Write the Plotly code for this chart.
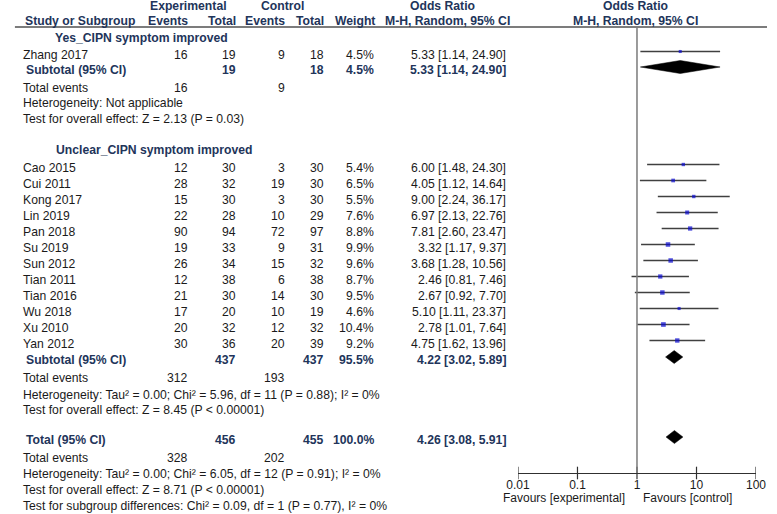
import plotly.graph_objects as go

# --- DATA ---
yes_studies = ["Zhang 2017"]
yes_exp_events = [16]
yes_exp_total = [19]
yes_ctl_events = [9]
yes_ctl_total = [18]
yes_weight = [4.5]
yes_or = [5.33]
yes_lo = [1.14]
yes_hi = [24.90]
yes_sub = {"exp_total": 19, "ctl_total": 18, "weight": 4.5, "or": 5.33, "lo": 1.14, "hi": 24.90,
           "exp_events": 16, "ctl_events": 9}

unc_studies = ["Cao 2015", "Cui 2011", "Kong 2017", "Lin 2019", "Pan 2018", "Su 2019",
               "Sun 2012", "Tian 2011", "Tian 2016", "Wu 2018", "Xu 2010", "Yan 2012"]
unc_exp_events = [12, 28, 15, 22, 90, 19, 26, 12, 21, 17, 20, 30]
unc_exp_total = [30, 32, 30, 28, 94, 33, 34, 38, 30, 20, 32, 36]
unc_ctl_events = [3, 19, 3, 10, 72, 9, 15, 6, 14, 10, 12, 20]
unc_ctl_total = [30, 30, 30, 29, 97, 31, 32, 38, 30, 19, 32, 39]
unc_weight = [5.4, 6.5, 5.5, 7.6, 8.8, 9.9, 9.6, 8.7, 9.5, 4.6, 10.4, 9.2]
unc_or = [6.00, 4.05, 9.00, 6.97, 7.81, 3.32, 3.68, 2.46, 2.67, 5.10, 2.78, 4.75]
unc_lo = [1.48, 1.12, 2.24, 2.13, 2.60, 1.17, 1.28, 0.81, 0.92, 1.11, 1.01, 1.62]
unc_hi = [24.30, 14.64, 36.17, 22.76, 23.47, 9.37, 10.56, 7.46, 7.70, 23.37, 7.64, 13.96]
unc_sub = {"exp_total": 437, "ctl_total": 437, "weight": 95.5, "or": 4.22, "lo": 3.02, "hi": 5.89,
           "exp_events": 312, "ctl_events": 193}

tot = {"exp_total": 456, "ctl_total": 455, "weight": 100.0, "or": 4.26, "lo": 3.08, "hi": 5.91,
       "exp_events": 328, "ctl_events": 202}

tick_vals = [0.01, 0.1, 1, 10, 100]
tick_text = ["0.01", "0.1", "1", "10", "100"]

# --- LAYOUT CONSTANTS (pixels) ---
W, H = 777, 514
FONT = "Liberation Sans, Arial, sans-serif"
FS = 12.2
TXT = "#1a1a1a"
HEAD = "#22345a"
COL_EVT_E, COL_TOT_E, COL_EVT_C, COL_TOT_C, COL_W, COL_OR = 182, 232, 282, 322, 374, 509
AX_L, AX_R = 520.7, 765.7
AX_Y = 473
LINE_Y = 27
MARK_SHIFT = 3.5

# text row positions (centres)
yes_rows = [55]
yes_sub_y = 70
unc_rows = [168 + 16 * i for i in range(len(unc_studies))]
unc_sub_y = 360
tot_y = 440

annotations = []


def px(x):
    return x / W


def txt(x, y, s, anchor="left", bold=False, color=TXT, size=FS):
    if bold:
        s = "<b>" + s + "</b>"
    annotations.append(dict(x=px(x), y=y, xref="paper", yref="y", text=s, showarrow=False,
                            xanchor=anchor, yanchor="middle", borderpad=0,
                            font=dict(family=FONT, size=size, color=color)))


# headers
txt(182, 6, "Experimental", "center", True, HEAD)
txt(278, 6, "Control", "center", True, HEAD)
txt(443, 6, "Odds Ratio", "center", True, HEAD)
txt(642, 6, "Odds Ratio", "center", True, HEAD)
txt(12, 21, "Study or Subgroup", "left", True, HEAD)
txt(COL_EVT_E, 21, "Events", "right", True, HEAD)
txt(COL_TOT_E, 21, "Total", "right", True, HEAD)
txt(COL_EVT_C, 21, "Events", "right", True, HEAD)
txt(COL_TOT_C, 21, "Total", "right", True, HEAD)
txt(COL_W + 1, 21, "Weight", "right", True, HEAD)
txt(448, 21, "M-H, Random, 95% CI", "center", True, HEAD)
txt(642, 21, "M-H, Random, 95% CI", "center", True, HEAD)


def study_rows(names, ee, et, ce, ct, w, o, lo, hi, rows):
    for i, y in enumerate(rows):
        txt(10, y, names[i])
        txt(COL_EVT_E, y, str(ee[i]), "right")
        txt(COL_TOT_E, y, str(et[i]), "right")
        txt(COL_EVT_C, y, str(ce[i]), "right")
        txt(COL_TOT_C, y, str(ct[i]), "right")
        txt(COL_W, y, f"{w[i]:.1f}%", "right")
        txt(COL_OR, y, f"{o[i]:.2f} [{lo[i]:.2f}, {hi[i]:.2f}]", "right")


def summary_row(label, s, y):
    txt(13, y, label, "left", True, HEAD)
    txt(COL_TOT_E, y, str(s["exp_total"]), "right", True, HEAD)
    txt(COL_TOT_C, y, str(s["ctl_total"]), "right", True, HEAD)
    txt(COL_W, y, f"{s['weight']:.1f}%", "right", True, HEAD)
    txt(COL_OR, y, f"{s['or']:.2f} [{s['lo']:.2f}, {s['hi']:.2f}]", "right", True, HEAD)


def events_row(s, y):
    txt(10, y, "Total events")
    txt(COL_EVT_E, y, str(s["exp_events"]), "right")
    txt(COL_EVT_C, y, str(s["ctl_events"]), "right")


# Yes subgroup
txt(43, 38, "Yes_CIPN symptom improved", "left", True, HEAD)
study_rows(yes_studies, yes_exp_events, yes_exp_total, yes_ctl_events, yes_ctl_total,
           yes_weight, yes_or, yes_lo, yes_hi, yes_rows)
summary_row("Subtotal (95% CI)", yes_sub, yes_sub_y)
events_row(yes_sub, 88)
txt(10, 103, "Heterogeneity: Not applicable")
txt(10, 119, "Test for overall effect: Z = 2.13 (P = 0.03)")

# Unclear subgroup
txt(44, 150, "Unclear_CIPN symptom improved", "left", True, HEAD)
study_rows(unc_studies, unc_exp_events, unc_exp_total, unc_ctl_events, unc_ctl_total,
           unc_weight, unc_or, unc_lo, unc_hi, unc_rows)
summary_row("Subtotal (95% CI)", unc_sub, unc_sub_y)
events_row(unc_sub, 378)
txt(10, 395, "Heterogeneity: Tau² = 0.00; Chi² = 5.96, df = 11 (P = 0.88); I² = 0%")
txt(10, 410, "Test for overall effect: Z = 8.45 (P < 0.00001)")

# Total
summary_row("Total (95% CI)", tot, tot_y)
events_row(tot, 458)
txt(10, 474, "Heterogeneity: Tau² = 0.00; Chi² = 6.05, df = 12 (P = 0.91); I² = 0%")
txt(10, 490, "Test for overall effect: Z = 8.71 (P < 0.00001)")
txt(10, 506, "Test for subgroup differences: Chi² = 0.09, df = 1 (P = 0.77), I² = 0%")

# favours labels
txt(632, 498, "Favours [experimental]", "right", size=12)
txt(648, 498, "Favours [control]", "left", size=12)

fig = go.Figure()

# CI lines and squares
all_or = yes_or + unc_or
all_lo = yes_lo + unc_lo
all_hi = yes_hi + unc_hi
all_w = yes_weight + unc_weight
all_y = [y - MARK_SHIFT for y in yes_rows + unc_rows]

ci_x, ci_y = [], []
for lo, hi, y in zip(all_lo, all_hi, all_y):
    ci_x += [lo, hi, None]
    ci_y += [y, y, None]
fig.add_trace(go.Scatter(x=ci_x, y=ci_y, mode="lines",
                         line=dict(color="#404040", width=1.4), hoverinfo="skip"))
fig.add_trace(go.Scatter(x=all_or, y=all_y, mode="markers",
                         marker=dict(symbol="square", color="#0a0ad0",
                                     size=[1.45 * w ** 0.5 for w in all_w], line=dict(width=0))))

# diamonds
for s, y in [(yes_sub, yes_sub_y), (unc_sub, unc_sub_y), (tot, tot_y)]:
    yc = y - MARK_SHIFT + 0.5
    fig.add_trace(go.Scatter(x=[s["lo"], s["or"], s["hi"], s["or"], s["lo"]],
                             y=[yc, yc - 6.5, yc, yc + 6.5, yc],
                             mode="lines", fill="toself", fillcolor="black",
                             line=dict(color="black", width=0.5), hoverinfo="skip"))

# axis tick crosses
fig.add_trace(go.Scatter(x=tick_vals, y=[AX_Y] * len(tick_vals), mode="markers",
                         marker=dict(symbol="line-ns", size=9,
                                     line=dict(color="#303030", width=1.2)),
                         hoverinfo="skip"))

shapes = [
    dict(type="line", xref="paper", yref="y", x0=px(3), x1=1, y0=LINE_Y, y1=LINE_Y,
         line=dict(color="#505050", width=1.4)),
    dict(type="line", xref="x", yref="y", x0=1, x1=1, y0=LINE_Y, y1=AX_Y,
         line=dict(color="#7a7a7a", width=1.5)),
]

fig.update_layout(
    width=W, height=H,
    margin=dict(l=0, r=0, t=0, b=0),
    paper_bgcolor="white", plot_bgcolor="white",
    showlegend=False,
    annotations=annotations,
    shapes=shapes,
    xaxis=dict(type="log", range=[-2, 2], domain=[px(AX_L), px(AX_R)],
               anchor="free", position=1 - AX_Y / H,
               showline=True, linecolor="#303030", linewidth=1.2,
               showgrid=False, zeroline=False, ticks="", ticklabelstandoff=0,
               tickvals=tick_vals, ticktext=tick_text,
               tickfont=dict(family=FONT, size=12, color=TXT)),
    yaxis=dict(range=[H, 0], domain=[0, 1], visible=False, showgrid=False, zeroline=False),
)

# page has a default body margin; drop it so the figure fills the window
fig.write_html("out.html", config={"displayModeBar": False},
               post_script="document.body.style.margin='0';")
